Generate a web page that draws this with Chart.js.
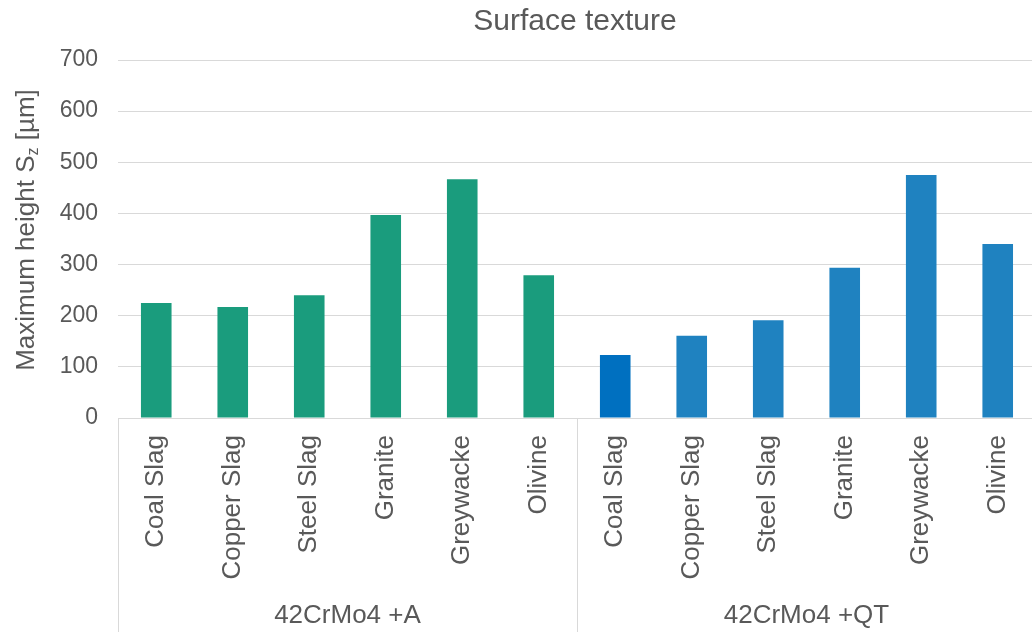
<!DOCTYPE html>
<html>
<head>
<meta charset="utf-8">
<script src="https://cdn.jsdelivr.net/npm/chart.js@4/dist/chart.umd.min.js"></script>
<style>
  html, body { margin: 0; padding: 0; background: #ffffff; overflow: hidden; }
  #wrap { width: 1046px; height: 632px; }
</style>
</head>
<body>
<div id="wrap"><canvas id="c" width="1046" height="632"></canvas></div>
<script>
// ---- data ----
const materials = ["Coal Slag", "Copper Slag", "Steel Slag", "Granite", "Greywacke", "Olivine"];
const groups = ["42CrMo4 +A", "42CrMo4 +QT"];
const valuesA = [225, 217, 240, 397, 467, 279];
const valuesQT = [123, 161, 191, 294, 475, 340];
const yTicks = [0, 100, 200, 300, 400, 500, 600, 700];
const chartTitle = "Surface texture";

const colorA = "#1A9C7D";
const colorQT = "#1F82C0";
const colorQTFirst = "#0070C0";
const textColor = "#595959";
const gridColor = "#D9D9D9";
const FONT = "'Liberation Sans', Arial, sans-serif";

const labels = materials.concat(materials);
const values = valuesA.concat(valuesQT);
const colors = valuesA.map(() => colorA).concat(valuesQT.map((v, i) => i === 0 ? colorQTFirst : colorQT));

const decorPlugin = {
  id: 'decor',
  afterDraw(chart) {
    const ctx = chart.ctx;
    const x = chart.scales.x;
    const y = chart.scales.y;
    const n = materials.length;
    ctx.save();
    // title
    ctx.fillStyle = textColor;
    ctx.font = "30px " + FONT;
    ctx.textAlign = "center";
    ctx.textBaseline = "middle";
    ctx.fillText(chartTitle, 575, 22);

    // group separators and labels
    const half = (x.getPixelForValue(1) - x.getPixelForValue(0)) / 2;
    const bounds = [];
    for (let g = 0; g <= groups.length; g++) {
      let px;
      if (g === 0) px = x.getPixelForValue(0) - half;
      else px = x.getPixelForValue(g * n - 1) + half;
      bounds.push(px);
    }
    ctx.strokeStyle = gridColor;
    ctx.lineWidth = 1;
    bounds.forEach(px => {
      ctx.beginPath();
      ctx.moveTo(Math.round(px) + 0.5, y.bottom);
      ctx.lineTo(Math.round(px) + 0.5, chart.height);
      ctx.stroke();
    });
    ctx.fillStyle = textColor;
    ctx.font = "26px " + FONT;
    ctx.textAlign = "center";
    ctx.textBaseline = "middle";
    groups.forEach((g, i) => {
      ctx.fillText(g, (bounds[i] + bounds[i + 1]) / 2, 616);
    });

    // y axis title with subscript
    ctx.translate(25, 230);
    ctx.rotate(-Math.PI / 2);
    const big = "26px " + FONT, small = "16px " + FONT;
    const p1 = "Maximum height S", p2 = "z", p3 = " [µm]";
    ctx.font = big; const w1 = ctx.measureText(p1).width, w3 = ctx.measureText(p3).width;
    ctx.font = small; const w2 = ctx.measureText(p2).width;
    let sx = -(w1 + w2 + w3) / 2;
    ctx.textAlign = "left";
    ctx.textBaseline = "alphabetic";
    ctx.font = big; ctx.fillText(p1, sx, 9); sx += w1;
    ctx.font = small; ctx.fillText(p2, sx, 13); sx += w2;
    ctx.font = big; ctx.fillText(p3, sx, 9);
    ctx.restore();
  }
};

new Chart(document.getElementById('c'), {
  type: 'bar',
  data: {
    labels: labels,
    datasets: [{
      data: values,
      backgroundColor: colors,
      borderWidth: 0,
      barPercentage: 0.4,
      categoryPercentage: 1.0
    }]
  },
  options: {
    responsive: false,
    animation: false,
    devicePixelRatio: 1,
    layout: { padding: { top: 60, right: 2, bottom: 0, left: 0 } },
    plugins: { legend: { display: false }, tooltip: { enabled: false }, title: { display: false } },
    scales: {
      x: {
        grid: { display: false, drawTicks: false },
        border: { display: true, color: gridColor, width: 1 },
        ticks: {
          color: textColor,
          font: { family: FONT, size: 26 },
          maxRotation: 90,
          minRotation: 90,
          autoSkip: false,
          padding: 17
        },
        afterFit(scale) { scale.height = 214; }
      },
      y: {
        min: 0,
        max: 700,
        afterBuildTicks(scale) { scale.ticks = yTicks.map(v => ({ value: v })); },
        grid: { color: gridColor, lineWidth: 1, drawTicks: false },
        border: { display: false },
        ticks: {
          color: textColor,
          font: { family: FONT, size: 23 },
          padding: 20
        },
        afterFit(scale) { scale.width = 118; }
      }
    }
  },
  plugins: [decorPlugin]
});
</script>
</body>
</html>
